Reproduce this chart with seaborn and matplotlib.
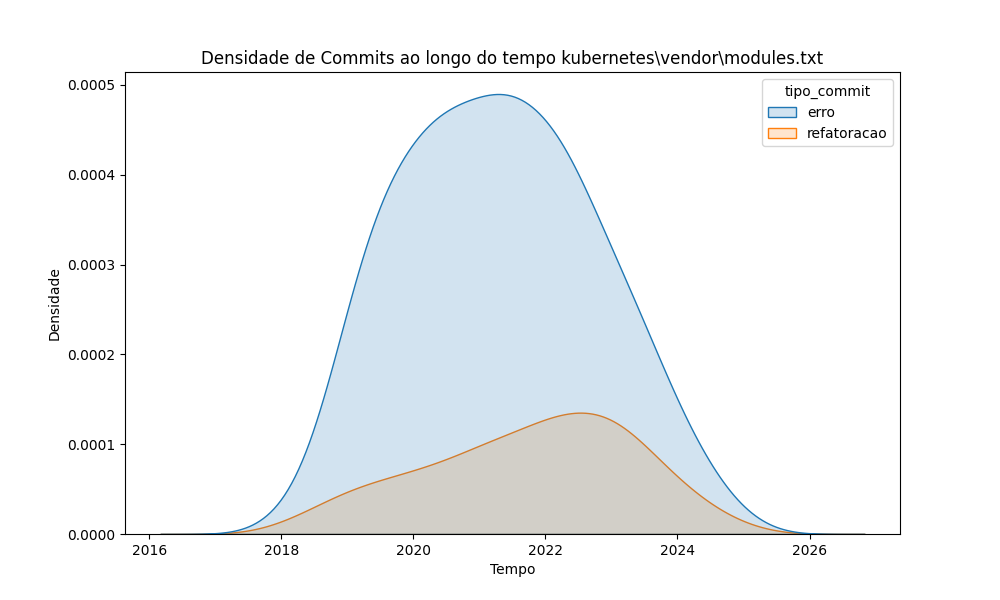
import pandas as pd
import matplotlib.pyplot as plt
import seaborn as sns

# commits por semestre (data de referência do semestre)
semestres_erro = [
    "2018-01-01", "2018-07-01", "2019-01-01", "2019-07-01", "2020-01-01",
    "2020-07-01", "2021-01-01", "2021-07-01", "2022-01-01", "2022-07-01",
    "2023-01-01", "2023-07-01", "2024-01-01", "2024-07-01", "2025-01-01",
]
commits_erro = [2, 8, 26, 39, 44, 48, 48, 50, 47, 41, 31, 24, 14, 7, 2]

semestres_refatoracao = [
    "2018-01-01", "2018-07-01", "2019-01-01", "2019-07-01", "2020-01-01",
    "2020-07-01", "2021-01-01", "2021-07-01", "2022-01-01", "2022-07-01",
    "2023-01-01", "2023-07-01", "2024-01-01", "2024-07-01", "2025-01-01",
]
commits_refatoracao = [1, 3, 5, 6, 7, 8, 10, 11, 13, 14, 14, 10, 6, 3, 1]

df = pd.concat([
    pd.DataFrame({"data": pd.to_datetime(semestres_erro), "n": commits_erro,
                  "tipo_commit": "erro"}),
    pd.DataFrame({"data": pd.to_datetime(semestres_refatoracao),
                  "n": commits_refatoracao, "tipo_commit": "refatoracao"}),
], ignore_index=True)

plt.figure(figsize=(10, 6))
sns.kdeplot(data=df, x="data", hue="tipo_commit", weights="n", fill=True,
            bw_adjust=0.47, alpha=0.2)
plt.title("Densidade de Commits ao longo do tempo kubernetes\\vendor\\modules.txt")
plt.xlabel("Tempo")
plt.ylabel("Densidade")
plt.savefig("out.png")
